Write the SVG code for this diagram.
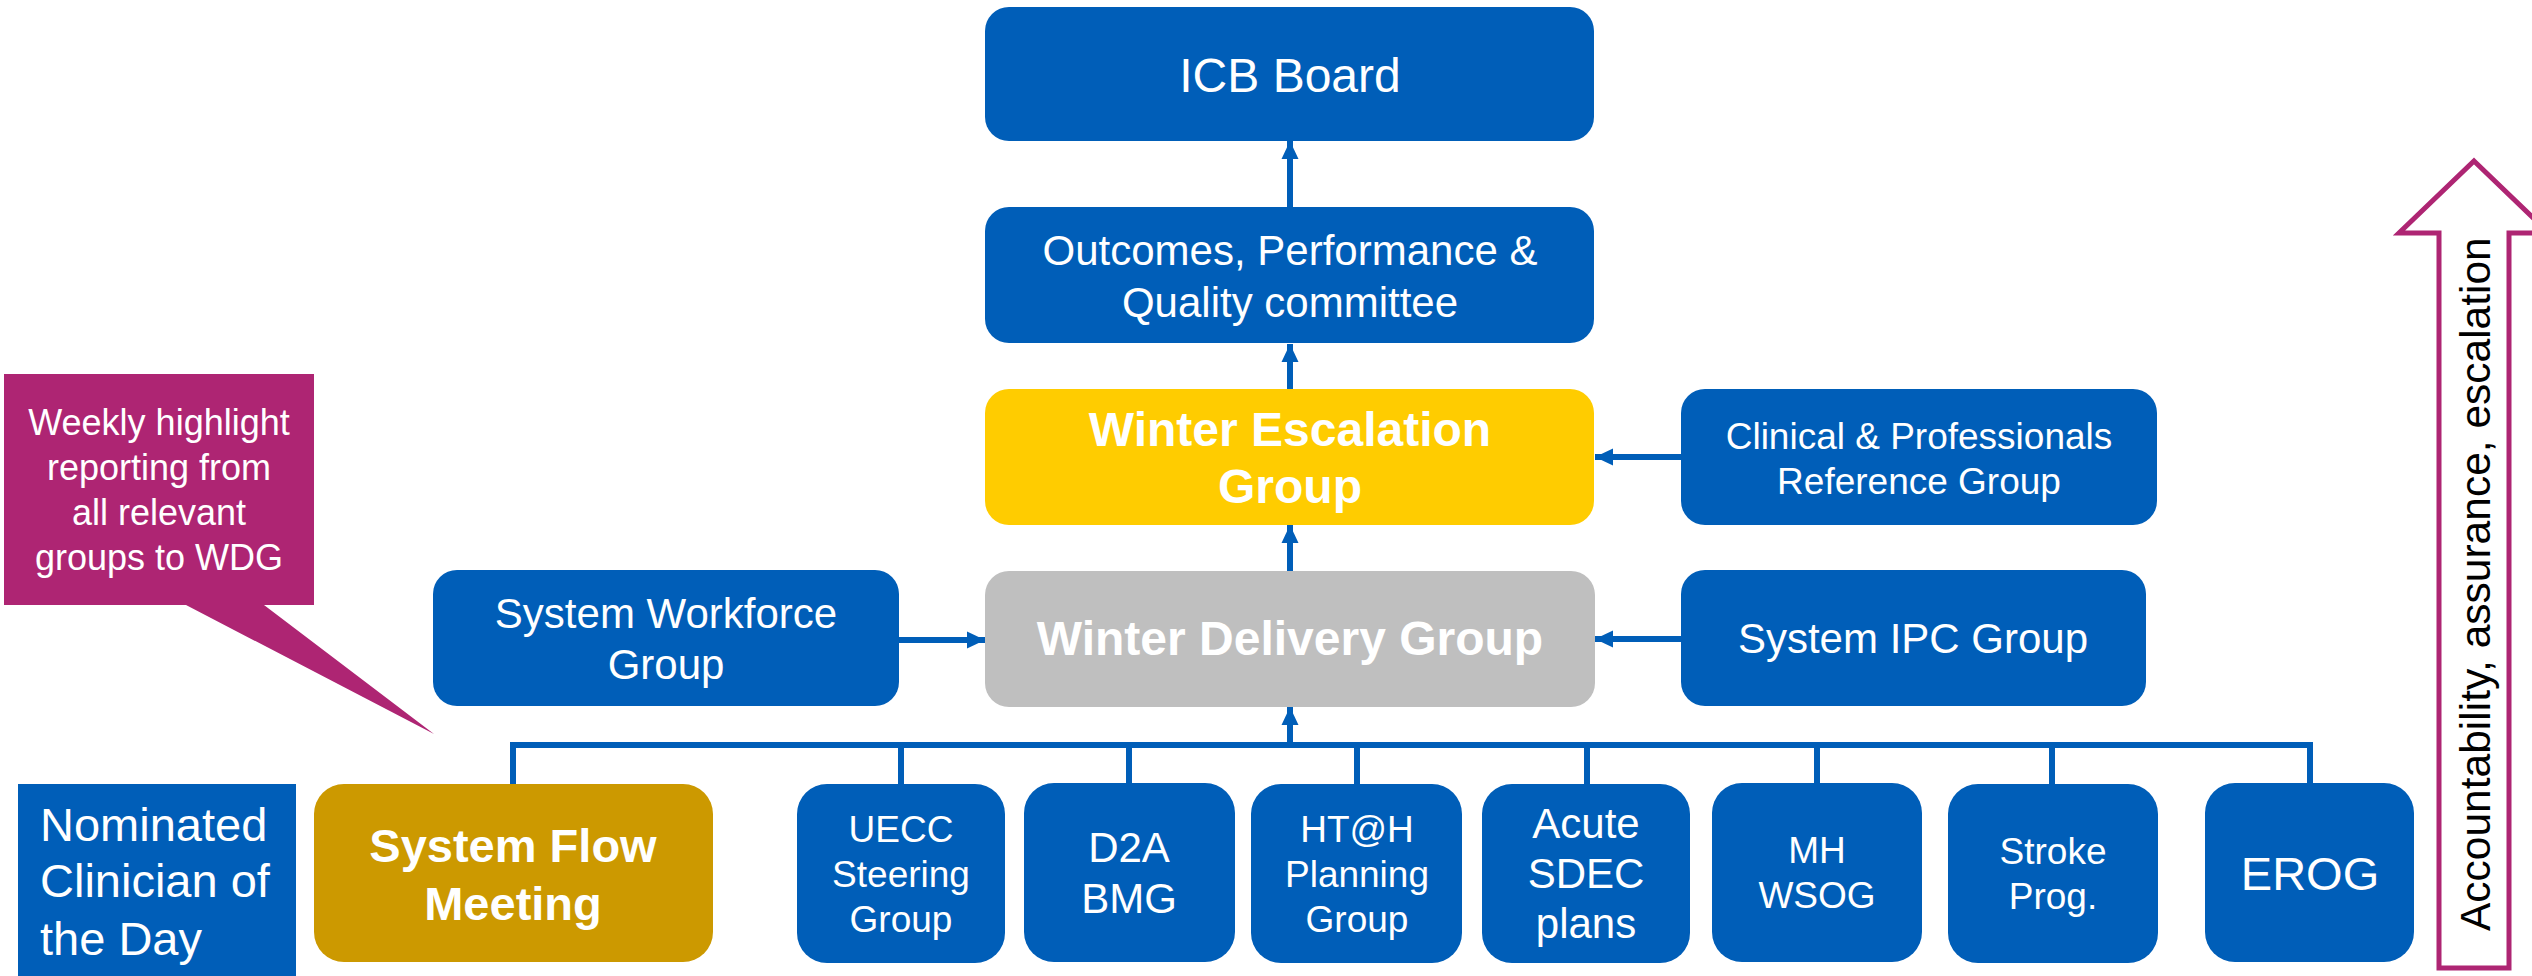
<svg xmlns="http://www.w3.org/2000/svg" width="2532" height="976" viewBox="0 0 2532 976">
<style>
.blue{fill:#005EB8}
.t{font-family:"Liberation Sans",Arial,sans-serif;fill:#FFFFFF;text-anchor:middle}
.b{font-weight:bold}
.conn{stroke:#005EB8;stroke-width:6;fill:none}
.acc{fill:#FFFFFF;stroke:#AE2573;stroke-width:5}
</style>
<defs>
<marker id="ah" markerUnits="userSpaceOnUse" markerWidth="18" markerHeight="18" viewBox="0 0 18 18" refX="18" refY="9" orient="auto">
<path d="M0,0.5 L18,9 L0,17.5 z" fill="#005EB8"/>
</marker>
</defs>
<rect width="2532" height="976" fill="#FFFFFF"/>

<g id="connectors">
<line class="conn" x1="1290" y1="207" x2="1290" y2="141" marker-end="url(#ah)"/>
<line class="conn" x1="1290" y1="389" x2="1290" y2="344" marker-end="url(#ah)"/>
<line class="conn" x1="1290" y1="571" x2="1290" y2="525" marker-end="url(#ah)"/>
<line class="conn" x1="1290" y1="745" x2="1290" y2="707" marker-end="url(#ah)"/>
<line class="conn" x1="1681" y1="457" x2="1595" y2="457" marker-end="url(#ah)"/>
<line class="conn" x1="1681" y1="639" x2="1595" y2="639" marker-end="url(#ah)"/>
<line class="conn" x1="899" y1="640" x2="985" y2="640" marker-end="url(#ah)"/>
<polyline class="conn" points="513,784 513,745 2310,745 2310,784"/>
<line class="conn" x1="901" y1="745" x2="901" y2="784"/>
<line class="conn" x1="1129" y1="745" x2="1129" y2="784"/>
<line class="conn" x1="1357" y1="745" x2="1357" y2="784"/>
<line class="conn" x1="1587" y1="745" x2="1587" y2="784"/>
<line class="conn" x1="1817" y1="745" x2="1817" y2="784"/>
<line class="conn" x1="2052" y1="745" x2="2052" y2="784"/>
</g>

<g id="icb-board">
<rect class="blue" x="985" y="7" width="609" height="134" rx="24"/>
<text class="t" x="1290" y="92" font-size="48">ICB Board</text>
</g>

<g id="opq-committee">
<rect class="blue" x="985" y="207" width="609" height="136" rx="24"/>
<text class="t" x="1290" y="265" font-size="42">Outcomes, Performance &amp;</text>
<text class="t" x="1290" y="317" font-size="42">Quality committee</text>
</g>

<g id="winter-escalation-group">
<rect x="985" y="389" width="609" height="136" rx="24" fill="#FFCC00"/>
<text class="t b" x="1290" y="446" font-size="48">Winter Escalation</text>
<text class="t b" x="1290" y="503" font-size="48">Group</text>
</g>

<g id="clinical-reference-group">
<rect class="blue" x="1681" y="389" width="476" height="136" rx="24"/>
<text class="t" x="1919" y="449" font-size="37">Clinical &amp; Professionals</text>
<text class="t" x="1919" y="494" font-size="37">Reference Group</text>
</g>

<g id="winter-delivery-group">
<rect x="985" y="571" width="610" height="136" rx="24" fill="#BFBFBF"/>
<text class="t b" x="1290" y="655" font-size="48">Winter Delivery Group</text>
</g>

<g id="system-workforce-group">
<rect class="blue" x="433" y="570" width="466" height="136" rx="24"/>
<text class="t" x="666" y="628" font-size="42">System Workforce</text>
<text class="t" x="666" y="679" font-size="42">Group</text>
</g>

<g id="system-ipc-group">
<rect class="blue" x="1681" y="570" width="465" height="136" rx="24"/>
<text class="t" x="1913" y="653" font-size="42">System IPC Group</text>
</g>

<g id="callout">
<path d="M4,374 H314 V605 H264 L434,734 L186,605 H4 Z" fill="#AE2573"/>
<text class="t" x="159" y="435" font-size="36">Weekly highlight</text>
<text class="t" x="159" y="480" font-size="36">reporting from</text>
<text class="t" x="159" y="525" font-size="36">all relevant</text>
<text class="t" x="159" y="570" font-size="36">groups to WDG</text>
</g>

<g id="nominated-clinician">
<rect class="blue" x="18" y="784" width="278" height="192"/>
<text class="t" x="40" y="841" font-size="47" style="text-anchor:start">Nominated</text>
<text class="t" x="40" y="897" font-size="47" style="text-anchor:start">Clinician of</text>
<text class="t" x="40" y="955" font-size="47" style="text-anchor:start">the Day</text>
</g>

<g id="system-flow-meeting">
<rect x="314" y="784" width="399" height="178" rx="30" fill="#CC9900"/>
<text class="t b" x="513" y="862" font-size="47">System Flow</text>
<text class="t b" x="513" y="920" font-size="47">Meeting</text>
</g>

<g id="uecc">
<rect class="blue" x="797" y="784" width="208" height="179" rx="30"/>
<text class="t" x="901" y="842" font-size="37">UECC</text>
<text class="t" x="901" y="887" font-size="37">Steering</text>
<text class="t" x="901" y="932" font-size="37">Group</text>
</g>

<g id="d2a-bmg">
<rect class="blue" x="1024" y="783" width="211" height="179" rx="30"/>
<text class="t" x="1129" y="862" font-size="42">D2A</text>
<text class="t" x="1129" y="913" font-size="42">BMG</text>
</g>

<g id="htah">
<rect class="blue" x="1251" y="784" width="211" height="179" rx="30"/>
<text class="t" x="1357" y="842" font-size="37">HT@H</text>
<text class="t" x="1357" y="887" font-size="37">Planning</text>
<text class="t" x="1357" y="932" font-size="37">Group</text>
</g>

<g id="acute-sdec">
<rect class="blue" x="1482" y="784" width="208" height="179" rx="30"/>
<text class="t" x="1586" y="838" font-size="42">Acute</text>
<text class="t" x="1586" y="888" font-size="42">SDEC</text>
<text class="t" x="1586" y="938" font-size="42">plans</text>
</g>

<g id="mh-wsog">
<rect class="blue" x="1712" y="783" width="210" height="179" rx="30"/>
<text class="t" x="1817" y="863" font-size="37">MH</text>
<text class="t" x="1817" y="908" font-size="37">WSOG</text>
</g>

<g id="stroke-prog">
<rect class="blue" x="1948" y="784" width="210" height="179" rx="30"/>
<text class="t" x="2053" y="864" font-size="37">Stroke</text>
<text class="t" x="2053" y="909" font-size="37">Prog.</text>
</g>

<g id="erog">
<rect class="blue" x="2205" y="783" width="209" height="179" rx="30"/>
<text class="t" x="2310" y="890" font-size="47">EROG</text>
</g>

<g id="accountability-arrow">
<path class="acc" d="M2474,161 L2549,233 H2509 V968 H2439 V233 H2399 Z"/>
<text x="0" y="0" transform="translate(2490,931) rotate(-90)" font-family="'Liberation Sans',Arial,sans-serif" font-size="42.5" fill="#000000">Accountability, assurance, escalation</text>
</g>
</svg>
